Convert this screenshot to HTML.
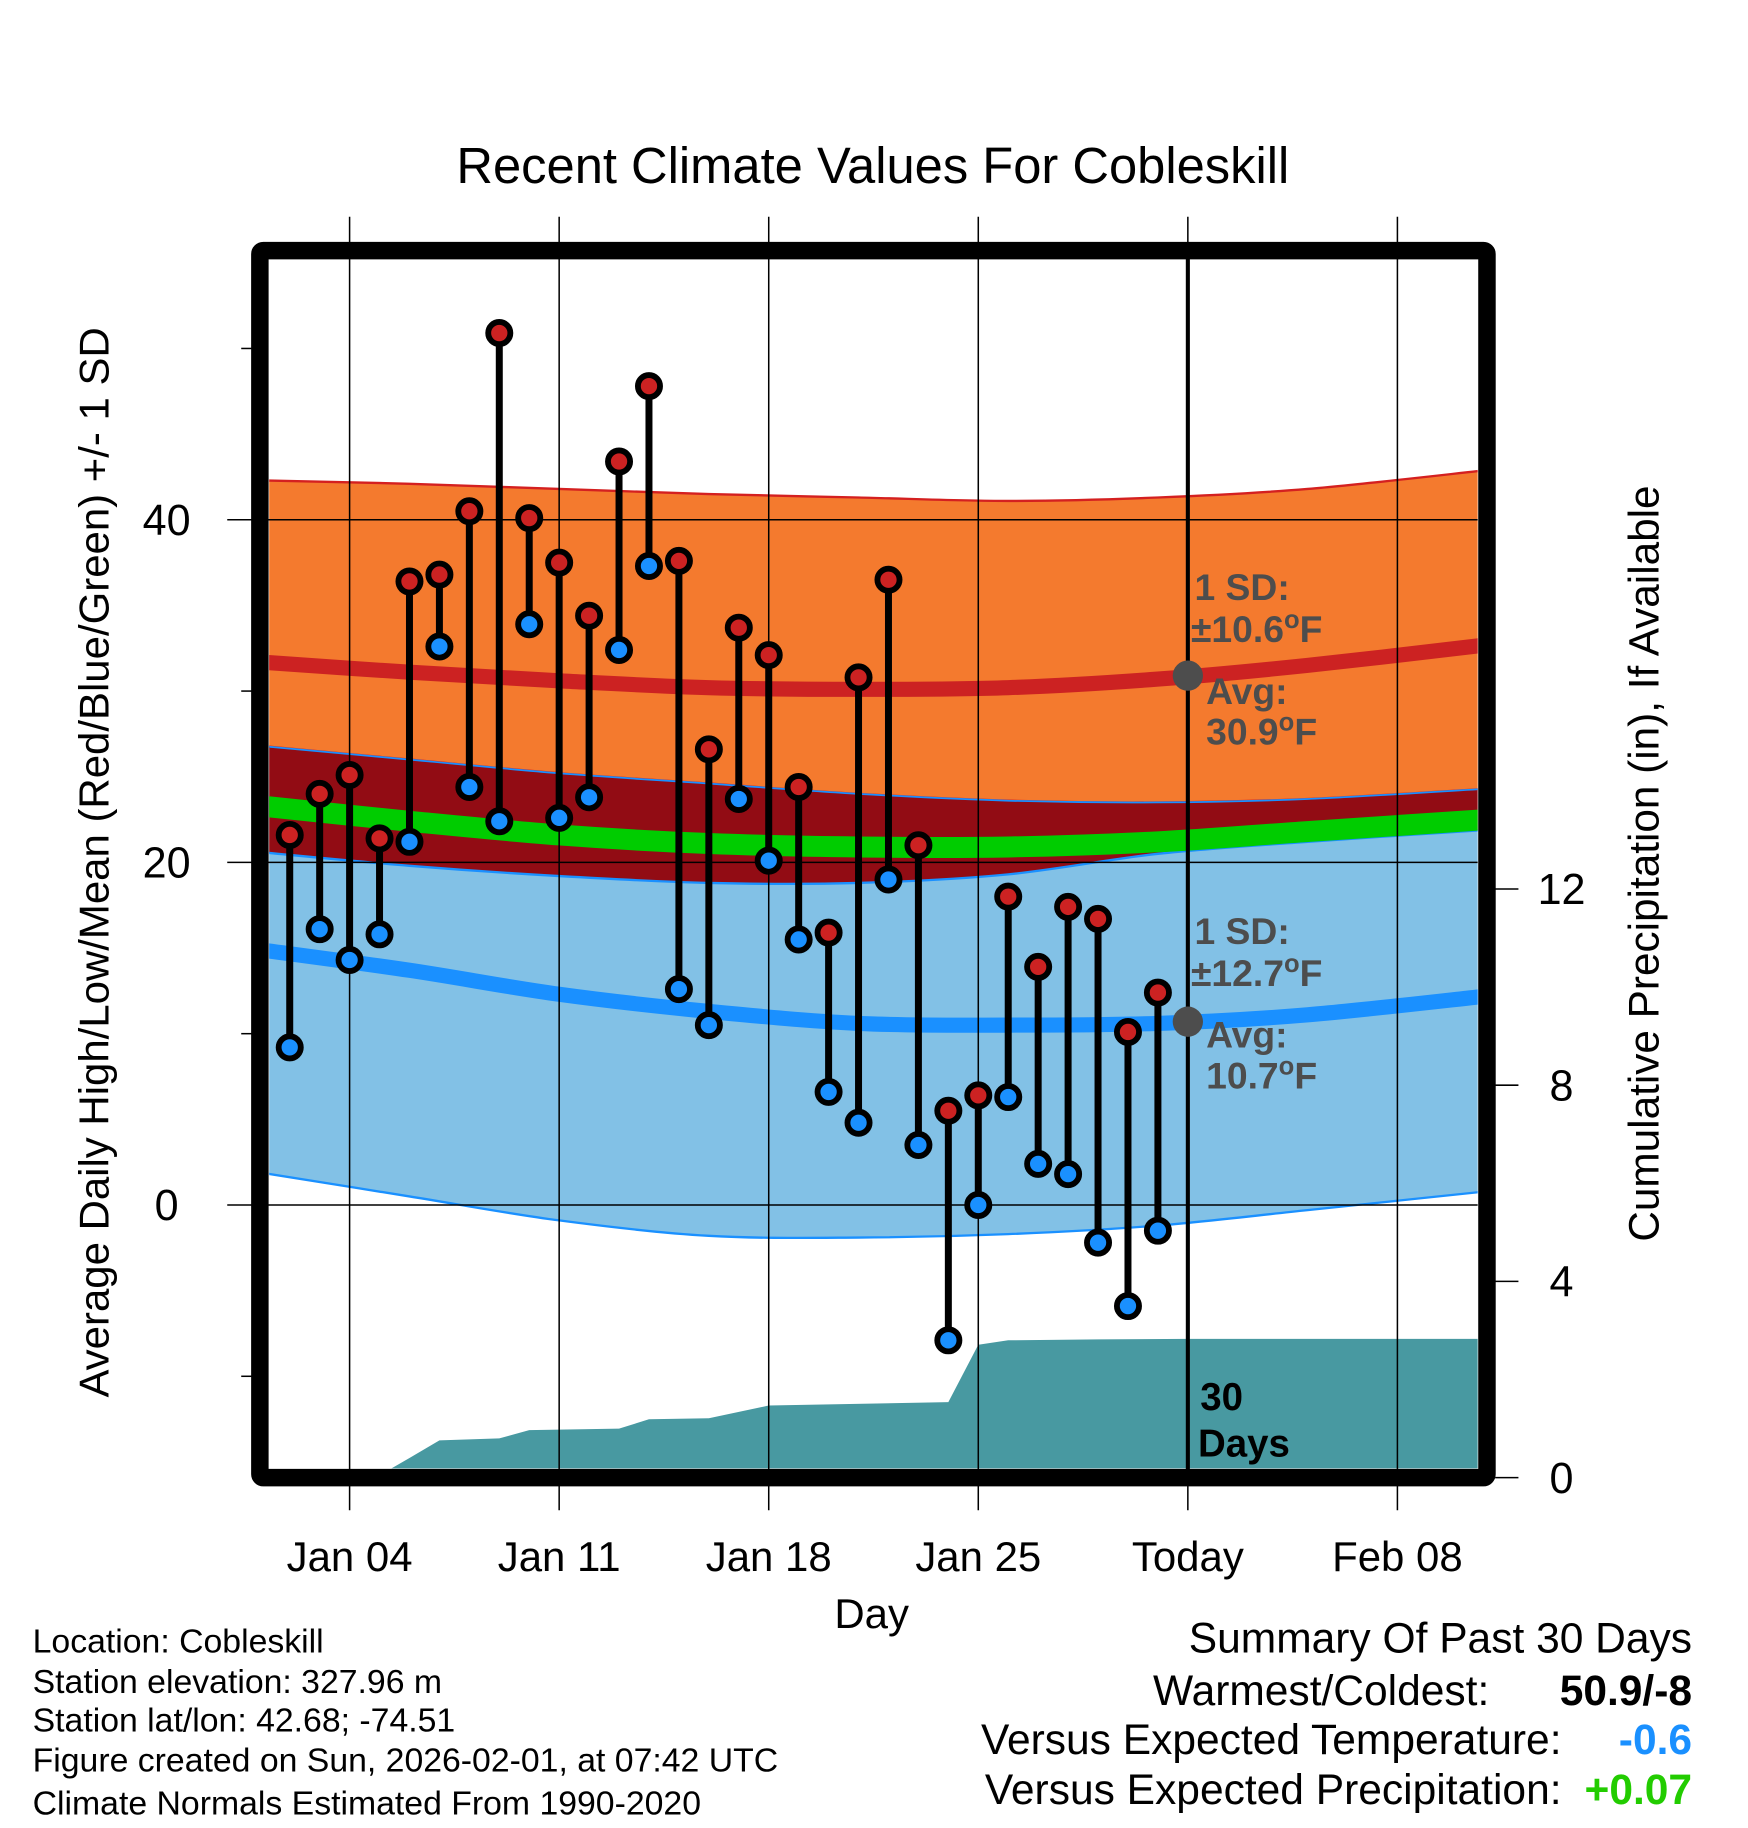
<!DOCTYPE html>
<html><head><meta charset="utf-8"><style>
html,body{margin:0;padding:0;background:#fff}
svg{display:block}
text{font-family:"Liberation Sans",Arial,sans-serif}
</style></head><body>
<svg id="chart" width="1748" height="1828" viewBox="0 0 1500 1568.6" xmlns="http://www.w3.org/2000/svg">
<defs><clipPath id="plotclip"><rect x="231" y="222" width="1037" height="1038"/></clipPath></defs>
<g id="plot" clip-path="url(#plotclip)"></g>
<g id="over"></g>
</svg>
<script>
// ---- data ----
const normDays = [1, 6, 11, 16, 21, 26, 31, 36, 42];
const sdTop    = [42.3, 42.1, 41.8, 41.5, 41.3, 41.1, 41.3, 41.8, 42.9];
const highAvg  = [31.7, 31.1, 30.6, 30.2, 30.1, 30.2, 30.7, 31.5, 32.7];
const orangeBottom = [26.8, 26.0, 25.2, 24.6, 24.0, 23.6, 23.5, 23.7, 24.3];
const meanAvg  = [23.3, 22.4, 21.6, 21.1, 20.9, 20.9, 21.2, 21.8, 22.5];
const blueTop  = [20.6, 19.8, 19.2, 18.8, 18.8, 19.3, 20.5, 21.2, 21.9];
const lowAvg   = [14.9, 13.7, 12.3, 11.3, 10.6, 10.5, 10.6, 11.1, 12.2];
const sdBottom = [1.9, 0.5, -0.9, -1.8, -1.9, -1.7, -1.2, -0.3, 0.8];

const obsDays = [2,3,4,5,6,7,8,9,10,11,12,13,14,15,16,17,18,19,20,21,22,23,24,25,26,27,28,29,30,31];
const highs = [21.6,24.0,25.1,21.4,36.4,36.8,40.5,50.9,40.1,37.5,34.4,43.4,47.8,37.6,26.6,33.7,32.1,24.4,15.9,30.8,36.5,21.0,5.5,6.4,18.0,13.9,17.4,16.7,10.1,12.4];
const lows  = [9.2,16.1,14.3,15.8,21.2,32.6,24.4,22.4,33.9,22.6,23.8,32.4,37.3,12.6,10.5,23.7,20.1,15.5,6.6,4.8,19.0,3.5,-7.9,0.0,6.3,2.4,1.8,-2.2,-5.9,-1.5];

const precipDays = [4.86, 6, 7, 9, 10, 13, 14, 16, 18, 24, 25, 26, 29, 32, 42];
const precipVals = [0, 0.4, 0.76, 0.8, 0.97, 1.0, 1.19, 1.21, 1.47, 1.54, 2.71, 2.8, 2.82, 2.83, 2.83];

const xTickDays = [4, 11, 18, 25, 32, 39];
const xTickLabels = ["Jan 04", "Jan 11", "Jan 18", "Jan 25", "Today", "Feb 08"];
const yTicks = [40, 20, 0];
const yMinorTicks = [50, 30, 10, -10];
const y2Ticks = [12, 8, 4, 0];

// ---- axes ----
const X = d => 300 + (d - 4) * 25.69;
const Y = v => 1034 - v * 14.7;
const Y2 = p => 1268 - p * 42.1;
const NS = "http://www.w3.org/2000/svg";
function mk(parent, tag, attrs, txt){
  const e = document.createElementNS(NS, tag);
  for (const k in attrs) e.setAttribute(k, attrs[k]);
  if (txt !== undefined) e.textContent = txt;
  parent.appendChild(e); return e;
}
const plot = document.getElementById('plot');
const over = document.getElementById('over');

function smooth(pts, start){
  let d = (start ? 'M' : 'L') + pts[0][0] + ',' + pts[0][1];
  for (let i = 0; i < pts.length - 1; i++){
    const p0 = pts[i-1] || pts[i], p1 = pts[i], p2 = pts[i+1], p3 = pts[i+2] || p2;
    const c1 = [p1[0] + (p2[0]-p0[0])/6, p1[1] + (p2[1]-p0[1])/6];
    const c2 = [p2[0] - (p3[0]-p1[0])/6, p2[1] - (p3[1]-p1[1])/6];
    d += ' C' + c1 + ' ' + c2 + ' ' + p2;
  }
  return d;
}
const pts = vals => normDays.map((t,i)=>[X(t), Y(vals[i])]);
function band(top, bot){
  return smooth(pts(top), true) + ' ' + smooth(pts(bot).reverse(), false) + ' Z';
}
function line(vals){ return smooth(pts(vals), true); }

let e;
e = mk(plot,'path',{d:band(sdTop, orangeBottom), fill:'#f47a2e', stroke:'#d42020', 'stroke-width':2});
 
e = mk(plot,'path',{d:band(orangeBottom, blueTop), fill:'#920c14'});
 
e = mk(plot,'path',{d:band(blueTop, sdBottom), fill:'#82c1e6', stroke:'#1a90ff', 'stroke-width':2});
 
e = mk(plot,'path',{d:line(orangeBottom), fill:'none', stroke:'#1a90ff', 'stroke-width':1.5});
 
e = mk(plot,'path',{d:line(meanAvg), fill:'none', stroke:'#00cc00', 'stroke-width':18});
 
e = mk(plot,'path',{d:line(highAvg), fill:'none', stroke:'#cc2222', 'stroke-width':13});
 
e = mk(plot,'path',{d:line(lowAvg), fill:'none', stroke:'#1a90ff', 'stroke-width':13});
 

let pd = 'M'+X(precipDays[0])+','+Y2(0)+' '+precipDays.map((t,i)=>'L'+X(t)+','+Y2(precipVals[i])).join(' ');
pd += ' L'+X(precipDays[precipDays.length-1])+','+Y2(0)+' Z';
e = mk(plot,'path',{d:pd, fill:'#4899a1'});
 

xTickDays.forEach(t=>{
  const g = mk(over,'line',{x1:X(t),x2:X(t),y1:186,y2:1296,stroke:'#000','stroke-width':1.3});
   
});
yTicks.forEach(v=>{
  const g = mk(over,'line',{x1:195,x2:1268,y1:Y(v),y2:Y(v),stroke:'#000','stroke-width':1.3});
   
});
yMinorTicks.forEach(v=>{
  const g = mk(over,'line',{x1:207,x2:216,y1:Y(v),y2:Y(v),stroke:'#000','stroke-width':1.3});
   
});
y2Ticks.forEach(p=>{
  const g = mk(over,'line',{x1:1283,x2:1303,y1:Y2(p),y2:Y2(p),stroke:'#000','stroke-width':1.3});
   
  const t = mk(over,'text',{x:1340,y:Y2(p)+13,'font-size':37,'text-anchor':'middle'}, String(p));
   
});
yTicks.forEach(v=>{
  const t = mk(over,'text',{x:143,y:Y(v)+13,'font-size':37,'text-anchor':'middle'}, String(v));
   
});
xTickDays.forEach((t,i)=>{
  const l = mk(over,'text',{x:X(t),y:1348,'font-size':36,'text-anchor':'middle'}, xTickLabels[i]);
   
});

e = mk(over,'line',{x1:X(32),x2:X(32),y1:222,y2:1262,stroke:'#000','stroke-width':3.5});
 

obsDays.forEach((t,i)=>{
  const s = mk(over,'line',{x1:X(t),x2:X(t),y1:Y(highs[i]),y2:Y(lows[i]),stroke:'#000','stroke-width':6});
   
});
obsDays.forEach((t,i)=>{
  const h = mk(over,'circle',{cx:X(t),cy:Y(highs[i]),r:9.5,fill:'#cc2222',stroke:'#000','stroke-width':5});
   
  const l = mk(over,'circle',{cx:X(t),cy:Y(lows[i]),r:9.5,fill:'#1a90ff',stroke:'#000','stroke-width':5});
   
});

e = mk(over,'circle',{cx:X(32),cy:Y(30.9),r:13,fill:'#4d4d4d'});
 
e = mk(over,'circle',{cx:X(32),cy:Y(10.7),r:13,fill:'#4d4d4d'});
 

e = mk(over,'rect',{x:223,y:215,width:1053,height:1053,fill:'none',stroke:'#000','stroke-width':15,rx:3});
 
</script>
<svg style="position:absolute;left:0;top:0" width="1748" height="1828" viewBox="0 0 1500 1568.6" xmlns="http://www.w3.org/2000/svg">
<g font-family="Liberation Sans, Arial, sans-serif">
<text x="749" y="157" font-size="43.5" text-anchor="middle">Recent Climate Values For Cobleskill</text>
<text transform="translate(93,740) rotate(-90)" font-size="36" text-anchor="middle">Average Daily High/Low/Mean (Red/Blue/Green) +/- 1 SD</text>
<text transform="translate(1423,741) rotate(-90)" font-size="36.3" text-anchor="middle">Cumulative Precipitation (in), If Available</text>
<text x="748" y="1397" font-size="36" text-anchor="middle">Day</text>
<g font-size="32" font-weight="bold" fill="#4d4d4d">
<text x="1025" y="515">1 SD:</text>
<text x="1022" y="551">±10.6<tspan dy="-12" font-size="22">o</tspan><tspan dy="12">F</tspan></text>
<text x="1035" y="604">Avg:</text>
<text x="1035" y="639">30.9<tspan dy="-12" font-size="22">o</tspan><tspan dy="12">F</tspan></text>
<text x="1025" y="810">1 SD:</text>
<text x="1022" y="846">±12.7<tspan dy="-12" font-size="22">o</tspan><tspan dy="12">F</tspan></text>
<text x="1035" y="899">Avg:</text>
<text x="1035" y="934">10.7<tspan dy="-12" font-size="22">o</tspan><tspan dy="12">F</tspan></text>
</g>
<text x="1030" y="1210" font-size="33" font-weight="bold">30</text>
<text x="1028" y="1250" font-size="33" font-weight="bold">Days</text>
<g font-size="29">
<text x="28" y="1418">Location: Cobleskill</text>
<text x="28" y="1453">Station elevation: 327.96 m</text>
<text x="28" y="1486">Station lat/lon: 42.68; -74.51</text>
<text x="28" y="1520">Figure created on Sun, 2026-02-01, at 07:42 UTC</text>
<text x="28" y="1557">Climate Normals Estimated From 1990-2020</text>
</g>
<g font-size="36.5" text-anchor="end">
<text x="1452" y="1418">Summary Of Past 30 Days</text>
<text x="1278" y="1463">Warmest/Coldest:</text>
<text x="1452" y="1463" font-weight="bold">50.9/-8</text>
<text x="1340" y="1505">Versus Expected Temperature:</text>
<text x="1452" y="1505" font-weight="bold" fill="#1a90ff">-0.6</text>
<text x="1340" y="1548">Versus Expected Precipitation:</text>
<text x="1452" y="1548" font-weight="bold" fill="#22cc00">+0.07</text>
</g>
</g>
</svg>
</body></html>
